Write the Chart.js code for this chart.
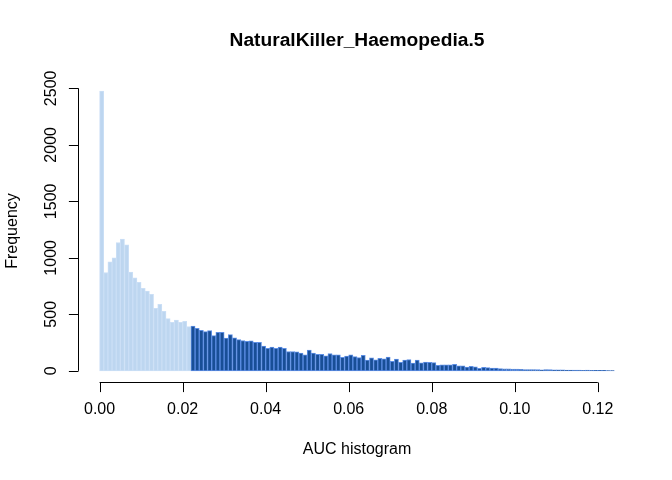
<!DOCTYPE html>
<html>
<head>
<meta charset="utf-8">
<title>NaturalKiller_Haemopedia.5</title>
<script src="https://cdn.jsdelivr.net/npm/chart.js@4.4.1/dist/chart.umd.min.js"></script>
<style>
  html, body { margin: 0; padding: 0; background: #fff; }
  canvas { display: block; }
</style>
</head>
<body>
<canvas id="hist" width="672" height="480"></canvas>
<script>
// histogram bins: width 0.001, starting at 0
const binWidth = 0.001;
const counts = [
  2475, 870, 965, 1000, 1136, 1165, 1115, 875, 824, 783,
  730, 706, 677, 553, 589, 527, 462, 430, 450, 430,
  439, 391, 395, 377, 359, 347, 356, 312, 341, 341,
  289, 321, 291, 276, 268, 262, 265, 253, 253, 218,
  200, 209, 200, 209, 200, 171, 171, 168, 156, 141,
  183, 156, 147, 147, 132, 153, 141, 141, 120, 131,
  141, 125, 117, 138, 95, 115, 97, 110, 106, 121,
  85, 104, 75, 94, 100, 68, 94, 70, 77, 75,
  72, 48, 53, 52, 52, 57, 45, 45, 32, 40,
  36, 22, 30, 28, 24, 24, 20, 18, 18, 15,
  15, 13, 12, 12, 11, 10, 9, 11, 10, 9,
  8, 8, 7, 7, 6, 6, 5, 6, 5, 4,
  4, 4, 3, 3
];
// bins below this AUC are drawn light
const cutoff = 0.022;

const xTicks = [0, 0.02, 0.04, 0.06, 0.08, 0.10, 0.12];
const xTickLabels = ['0.00', '0.02', '0.04', '0.06', '0.08', '0.10', '0.12'];
const yTicks = [0, 500, 1000, 1500, 2000, 2500];

const chartTitle = 'NaturalKiller_Haemopedia.5';
const xTitle = 'AUC histogram';
const yTitle = 'Frequency';

const points = counts.map((c, i) => ({ x: (i + 0.5) * binWidth, y: c }));

// R-like axis ranges (4% extension)
const xMax = counts.length * binWidth;
const xPad = 0.04 * xMax;
const yMax = Math.max(...counts);
const yPad = 0.04 * yMax;

const lightFill = 'rgb(189,214,240)';
const lightLine = 'rgb(203,223,246)';
const darkFill = 'rgb(24,78,150)';
const darkLine = 'rgb(92,142,228)';

const FONT = '"Liberation Sans", Arial, Helvetica, sans-serif';

// axes drawn the way base R does it: lines only between first and last tick
const baseAxes = {
  id: 'baseAxes',
  afterDraw(chart) {
    const { ctx, chartArea, scales } = chart;
    const x = scales.x, y = scales.y;
    const tick = 9.6;
    ctx.save();
    ctx.strokeStyle = '#000';
    ctx.fillStyle = '#000';
    ctx.lineWidth = 1;

    // x axis
    const yb = Math.round(chartArea.bottom) + 0.5;
    ctx.beginPath();
    ctx.moveTo(x.getPixelForValue(xTicks[0]), yb);
    ctx.lineTo(x.getPixelForValue(xTicks[xTicks.length - 1]), yb);
    xTicks.forEach(v => {
      const px = Math.round(x.getPixelForValue(v)) + 0.5;
      ctx.moveTo(px, yb);
      ctx.lineTo(px, yb + tick);
    });
    ctx.stroke();
    ctx.font = '16px ' + FONT;
    ctx.textAlign = 'center';
    ctx.textBaseline = 'middle';
    xTicks.forEach((v, i) => {
      ctx.fillText(xTickLabels[i], x.getPixelForValue(v), 410);
    });
    ctx.fillText(xTitle, (chartArea.left + chartArea.right) / 2, 450);

    // y axis
    const xl = Math.round(chartArea.left) - 0.5;
    ctx.beginPath();
    ctx.moveTo(xl, y.getPixelForValue(yTicks[0]));
    ctx.lineTo(xl, y.getPixelForValue(yTicks[yTicks.length - 1]));
    yTicks.forEach(v => {
      const py = Math.round(y.getPixelForValue(v)) + 0.5;
      ctx.moveTo(xl, py);
      ctx.lineTo(xl - tick, py);
    });
    ctx.stroke();
    yTicks.forEach(v => {
      ctx.save();
      ctx.translate(52, y.getPixelForValue(v));
      ctx.rotate(-Math.PI / 2);
      ctx.fillText(String(v), 0, 0);
      ctx.restore();
    });
    ctx.save();
    ctx.translate(13, (chartArea.top + chartArea.bottom) / 2);
    ctx.rotate(-Math.PI / 2);
    ctx.fillText(yTitle, 0, 0);
    ctx.restore();

    // main title
    ctx.font = 'bold 19.2px ' + FONT;
    ctx.fillText(chartTitle, (chartArea.left + chartArea.right) / 2, 41);
    ctx.restore();
  }
};

new Chart(document.getElementById('hist'), {
  type: 'bar',
  data: {
    datasets: [{
      data: points,
      backgroundColor: c => (c.raw && c.raw.x < cutoff ? lightFill : darkFill),
      borderColor: c => (c.raw && c.raw.x < cutoff ? lightLine : darkLine),
      borderWidth: 1,
      borderSkipped: false,
      barPercentage: 1,
      categoryPercentage: 1
    }]
  },
  options: {
    responsive: false,
    animation: false,
    devicePixelRatio: 1,
    layout: {
      padding: { left: 79, right: 37, top: 80, bottom: 98 }
    },
    plugins: {
      legend: { display: false },
      title: { display: false },
      tooltip: { enabled: false }
    },
    scales: {
      x: {
        type: 'linear',
        display: false,
        min: -xPad,
        max: xMax + xPad,
        offset: false
      },
      y: {
        display: false,
        min: -yPad,
        max: yMax + yPad
      }
    }
  },
  plugins: [baseAxes]
});
</script>
</body>
</html>
